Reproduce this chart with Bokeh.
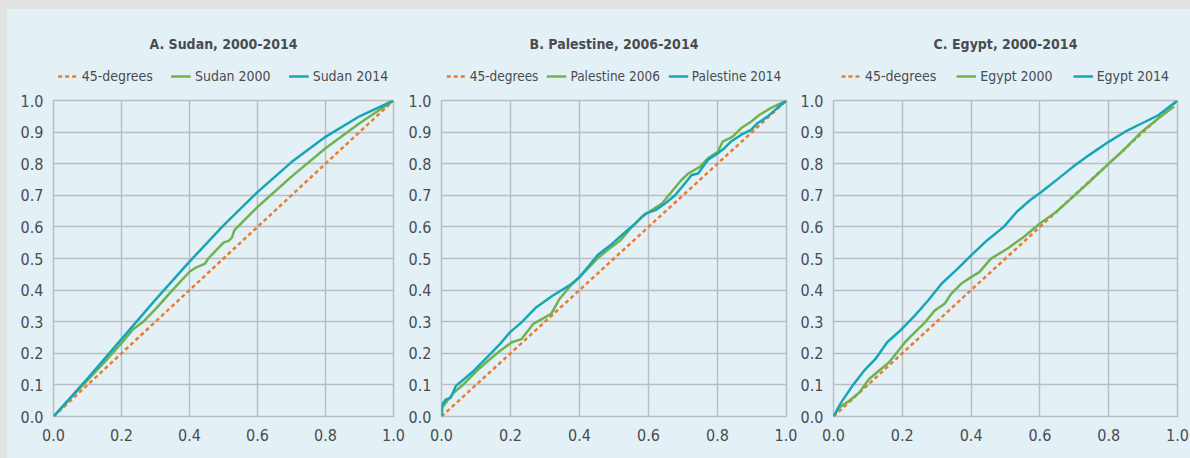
from bokeh.plotting import figure
from bokeh.layouts import row, column
from bokeh.models import Range1d, Legend, LegendItem, FixedTicker, PrintfTickFormatter
from bokeh.embed import file_html
from bokeh.resources import INLINE

# ---------------- data ----------------
diag_x = [0.0, 1.0]
diag_y = [0.0, 1.0]

sudan_2000_x = [0, 0.05, 0.1, 0.15, 0.2, 0.233, 0.262, 0.3, 0.35, 0.4, 0.417, 0.446, 0.455, 0.5, 0.515, 0.525, 0.532, 0.6, 0.7, 0.8, 0.9, 1.0]
sudan_2000_y = [0, 0.058, 0.115, 0.172, 0.232, 0.275, 0.298, 0.34, 0.40, 0.458, 0.47, 0.484, 0.5, 0.55, 0.556, 0.566, 0.59, 0.663, 0.759, 0.849, 0.928, 1.0]
sudan_2014_x = [0, 0.1, 0.2, 0.3, 0.4, 0.5, 0.6, 0.7, 0.8, 0.9, 1.0]
sudan_2014_y = [0, 0.12, 0.245, 0.37, 0.49, 0.605, 0.71, 0.805, 0.885, 0.95, 1.0]

pal_2006_x = [0, 0.003, 0.017, 0.036, 0.065, 0.103, 0.141, 0.17, 0.204, 0.232, 0.266, 0.318, 0.342, 0.371, 0.4, 0.428, 0.457, 0.486, 0.519, 0.548, 0.581, 0.61, 0.639, 0.667, 0.691, 0.715, 0.749, 0.772, 0.801, 0.815, 0.844, 0.868, 0.897, 0.921, 0.954, 1.0]
pal_2006_y = [0, 0.029, 0.05, 0.076, 0.103, 0.145, 0.182, 0.208, 0.235, 0.245, 0.293, 0.325, 0.372, 0.41, 0.441, 0.473, 0.505, 0.531, 0.558, 0.595, 0.632, 0.653, 0.674, 0.711, 0.743, 0.769, 0.79, 0.817, 0.838, 0.87, 0.886, 0.912, 0.933, 0.954, 0.976, 1.0]
pal_2014_x = [0, 0.0, 0.012, 0.027, 0.042, 0.065, 0.094, 0.132, 0.17, 0.199, 0.232, 0.275, 0.323, 0.371, 0.4, 0.428, 0.452, 0.495, 0.533, 0.562, 0.591, 0.62, 0.648, 0.677, 0.706, 0.725, 0.744, 0.772, 0.801, 0.82, 0.839, 0.868, 0.897, 0.916, 0.945, 0.973, 1.0]
pal_2014_y = [0, 0.034, 0.053, 0.06, 0.097, 0.118, 0.145, 0.187, 0.23, 0.267, 0.298, 0.346, 0.383, 0.415, 0.441, 0.478, 0.51, 0.547, 0.584, 0.611, 0.642, 0.653, 0.674, 0.70, 0.738, 0.764, 0.769, 0.812, 0.833, 0.849, 0.87, 0.891, 0.907, 0.928, 0.949, 0.976, 1.0]

egy_2000_x = [0, 0.017, 0.046, 0.075, 0.103, 0.132, 0.161, 0.185, 0.208, 0.237, 0.266, 0.294, 0.323, 0.342, 0.371, 0.4, 0.424, 0.457, 0.505, 0.553, 0.6, 0.648, 0.696, 0.744, 0.801, 0.849, 0.897, 0.945, 0.99]
egy_2000_y = [0, 0.029, 0.05, 0.076, 0.118, 0.145, 0.171, 0.203, 0.235, 0.267, 0.298, 0.335, 0.357, 0.388, 0.42, 0.441, 0.457, 0.499, 0.531, 0.568, 0.611, 0.648, 0.695, 0.743, 0.801, 0.849, 0.902, 0.944, 0.981]
egy_2014_x = [0, 0.022, 0.055, 0.089, 0.122, 0.156, 0.199, 0.237, 0.275, 0.314, 0.361, 0.4, 0.447, 0.495, 0.533, 0.572, 0.605, 0.648, 0.696, 0.744, 0.801, 0.849, 0.897, 0.945, 1.0]
egy_2014_y = [0, 0.044, 0.097, 0.145, 0.182, 0.235, 0.277, 0.32, 0.367, 0.42, 0.468, 0.51, 0.558, 0.60, 0.648, 0.685, 0.711, 0.748, 0.79, 0.828, 0.87, 0.902, 0.928, 0.954, 1.0]

titles = ["A. Sudan, 2000-2014", "B. Palestine, 2006-2014", "C. Egypt, 2000-2014"]
labels = [["45-degrees", "Sudan 2000", "Sudan 2014"],
          ["45-degrees", "Palestine 2006", "Palestine 2014"],
          ["45-degrees", "Egypt 2000", "Egypt 2014"]]
x_ticks = [0.0, 0.2, 0.4, 0.6, 0.8, 1.0]
y_ticks = [0.0, 0.1, 0.2, 0.3, 0.4, 0.5, 0.6, 0.7, 0.8, 0.9, 1.0]

series = [((sudan_2000_x, sudan_2000_y), (sudan_2014_x, sudan_2014_y)),
          ((pal_2006_x, pal_2006_y), (pal_2014_x, pal_2014_y)),
          ((egy_2000_x, egy_2000_y), (egy_2014_x, egy_2014_y))]

# ---------------- style ----------------
BG = "#e3f1f7"
OUTER = "#e2e2e2"
GRID = "#b9bdc4"
TXT = "#4a4b4e"
ORANGE = "#eb7b2d"
GREEN = "#6fb350"
TEAL = "#18a5b6"
FONT = "DejaVu Sans Condensed"
DASH = "4 3"
LW = 2.5

# width, border left/right, legend item spacing, legend font size  (layout starts at x=7, y=9)
geom = [(398, 46, 12, 18, "14px"), (392, 30, 11, 8, "13.5px"), (393, 29, 13, 20, "14px")]
HEAD_H = 83
MAIN_H = 366

cols = []
for i in range(3):
    w, bl, br, sp, lfs = geom[i]
    (gx, gy), (tx, ty) = series[i]

    # ---- header: title + legend (its data lies outside the header's view) ----
    h = figure(width=w, height=HEAD_H, output_backend="svg", toolbar_location=None,
               x_axis_type=None, y_axis_type=None,
               x_range=Range1d(0, 1), y_range=Range1d(5, 6),
               min_border_left=bl, min_border_right=br, min_border_top=44, min_border_bottom=0)
    h.background_fill_color = BG
    h.border_fill_color = BG
    h.outline_line_color = None
    h.title.text = titles[i]
    h.title.align = "center"
    h.title.text_font = FONT
    h.title.text_font_size = "14px"
    h.title.text_font_style = "bold"
    h.title.text_color = TXT
    h.title.standoff = 3
    hd = h.line(diag_x, diag_y, line_color=ORANGE, line_width=LW, line_dash=DASH)
    hg = h.line(gx, gy, line_color=GREEN, line_width=LW)
    ht = h.line(tx, ty, line_color=TEAL, line_width=LW)
    legend = Legend(items=[LegendItem(label=labels[i][0], renderers=[hd]),
                           LegendItem(label=labels[i][1], renderers=[hg]),
                           LegendItem(label=labels[i][2], renderers=[ht])],
                    orientation="horizontal", location="top_center",
                    label_text_font=FONT, label_text_font_size=lfs, label_text_color=TXT,
                    glyph_width=20, glyph_height=18, label_height=18, label_standoff=4, spacing=sp,
                    padding=0, margin=14, background_fill_alpha=0, border_line_alpha=0)
    h.add_layout(legend)

    # ---- main chart ----
    p = figure(width=w, height=MAIN_H, output_backend="svg", toolbar_location=None,
               x_range=Range1d(0, 1), y_range=Range1d(0, 1),
               min_border_left=bl, min_border_right=br, min_border_top=8, min_border_bottom=42)
    p.background_fill_color = BG
    p.border_fill_color = BG
    p.outline_line_color = GRID
    p.outline_line_width = 1.5

    for ax in (p.xaxis, p.yaxis):
        ax.axis_line_color = None
        ax.major_tick_line_color = None
        ax.minor_tick_line_color = None
        ax.major_label_text_font = FONT
        ax.major_label_text_font_size = "16px"
        ax.major_label_text_color = TXT
        ax.formatter = PrintfTickFormatter(format="%.1f")
    p.xaxis.ticker = FixedTicker(ticks=x_ticks)
    p.yaxis.ticker = FixedTicker(ticks=y_ticks)
    p.xaxis.major_label_standoff = 6
    p.yaxis.major_label_standoff = 4

    p.xgrid.ticker = FixedTicker(ticks=x_ticks)
    p.ygrid.ticker = FixedTicker(ticks=y_ticks)
    for g in (p.xgrid, p.ygrid):
        g.grid_line_color = GRID
        g.grid_line_width = 1.5

    p.line(diag_x, diag_y, line_color=ORANGE, line_width=LW, line_dash=DASH)
    p.line(gx, gy, line_color=GREEN, line_width=LW)
    p.line(tx, ty, line_color=TEAL, line_width=LW)

    cols.append(column(h, p, spacing=0))

layout = row(*cols, spacing=0)
html = file_html(layout, INLINE)
style = ("<style>html{background:" + OUTER + " !important;overflow:hidden !important;}"
         "body{margin:9px 0 0 7px !important;height:auto !important;background:" + BG + " !important;}</style>")
html = html.replace("</head>", style + "</head>", 1)
open("out.html", "w").write(html)
